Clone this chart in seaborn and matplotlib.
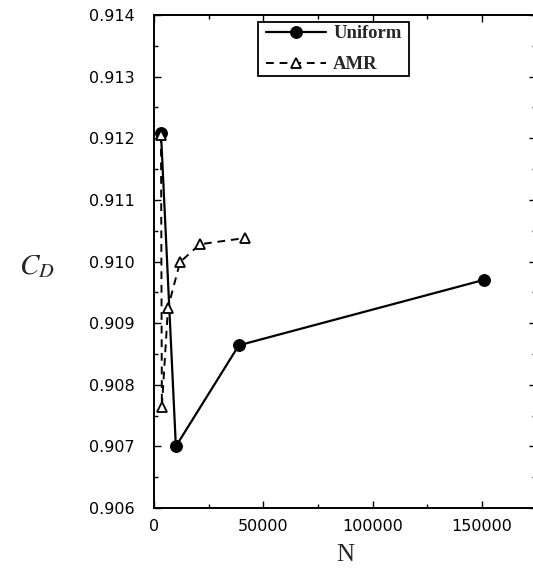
import matplotlib
matplotlib.use("Agg")
import matplotlib.pyplot as plt
import seaborn as sns
import pandas as pd
from matplotlib.patches import Rectangle
from matplotlib.ticker import MultipleLocator, FormatStrFormatter

uniform_N = [3200, 10000, 38800, 150700]
uniform_CD = [0.91208, 0.90700, 0.90864, 0.90970]
amr_N = [3200, 3600, 6400, 11900, 21000, 41500]
amr_CD = [0.91205, 0.90764, 0.90925, 0.90999, 0.91028, 0.91038]
series_names = ["Uniform", "AMR"]
x_ticks = [0, 50000, 100000, 150000]
y_ticks = [0.906, 0.907, 0.908, 0.909, 0.910, 0.911, 0.912, 0.913, 0.914]

sns.set_style("ticks")
plt.rcParams["font.family"] = ["DejaVu Sans"]

df_u = pd.DataFrame({"N": uniform_N, "CD": uniform_CD})
df_a = pd.DataFrame({"N": amr_N, "CD": amr_CD})

W, H = 533, 568
fig = plt.figure(figsize=(W/100, H/100), dpi=100)
ax = fig.add_axes([154/W, 1-508/H, (536-154)/W, (508-15)/H])

sns.lineplot(data=df_u, x="N", y="CD", ax=ax, sort=False, color="black",
             linewidth=1.6, marker="o", markersize=8.5, markeredgecolor="black",
             markerfacecolor="black", label=series_names[0])
sns.lineplot(data=df_a, x="N", y="CD", ax=ax, sort=False, color="black",
             linewidth=1.4, linestyle=(0, (4, 3)), marker="^", markersize=7,
             markeredgecolor="black", markerfacecolor="white", markeredgewidth=1.3,
             label=series_names[1])

ax.set_xlim(0, 174700)
ax.set_ylim(0.906, 0.914)
ax.set_xticks(x_ticks)
ax.set_yticks(y_ticks)
ax.yaxis.set_major_formatter(FormatStrFormatter("%.3f"))
ax.xaxis.set_minor_locator(MultipleLocator(25000))
ax.yaxis.set_minor_locator(MultipleLocator(0.0005))
ax.tick_params(which="both", direction="in", top=True, right=True, colors="black")
ax.tick_params(which="major", length=5, width=1, labelsize=11.5)
ax.tick_params(which="minor", length=3, width=1)
ax.tick_params(axis="y", which="major", pad=14)
ax.tick_params(axis="x", which="major", pad=8)
for s in ax.spines.values():
    s.set_linewidth(1.4)
    s.set_color("black")

ax.set_xlabel("N", family=["Liberation Serif"], fontsize=18, labelpad=7)
ax.set_ylabel("")
fig.text(37/W, 1-266/H, r"$C_D$", fontsize=21, ha="center", va="center",
         math_fontfamily="stix")

leg = ax.legend(loc="upper left", bbox_to_anchor=(266.4/W, 1-25/H),
                bbox_transform=fig.transFigure, borderaxespad=0, borderpad=0,
                frameon=False, handlelength=3.18, labelspacing=0.75,
                handletextpad=0.4, prop={"family": "Liberation Serif",
                                         "weight": "bold", "size": 13.4})
box = Rectangle((258/W, 1-76/H), (409-258)/W, (76-22)/H,
                transform=fig.transFigure, fill=True, facecolor="white",
                edgecolor="black", linewidth=1.3, zorder=4, clip_on=False)
ax.add_patch(box)
leg.set_zorder(5)

fig.savefig("out.png", dpi=100)
